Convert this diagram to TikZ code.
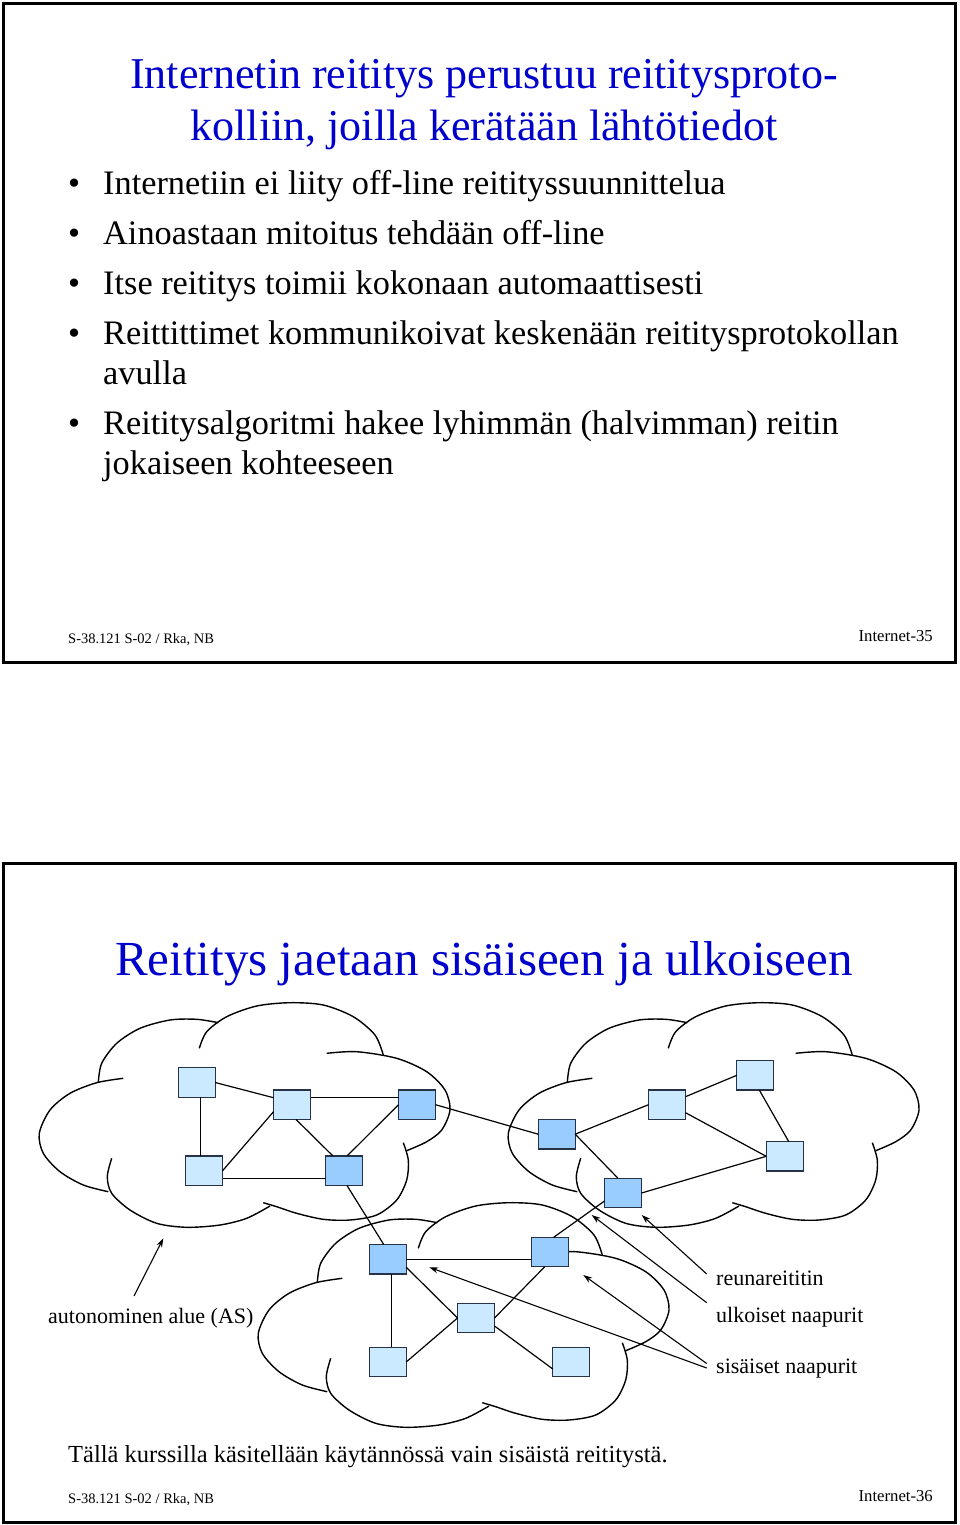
\documentclass[tikz,border=0pt]{standalone}
\usepackage{fontspec}
\setmainfont{Liberation Serif}
\usetikzlibrary{arrows.meta}
\definecolor{titleblue}{RGB}{0,0,204}
\definecolor{rlight}{RGB}{204,234,255}
\definecolor{rdark}{RGB}{153,204,255}
\definecolor{rborder}{RGB}{40,50,70}
\newcommand{\mycloud}[1]{%
\begin{scope}[shift={#1}]
\draw[cloudpen] plot[smooth] coordinates {(85.3,76.3) (58.7,80.7) (32,91.3) (12,108) (1.3,131.3) (5.3,151.3) (22,169.7) (45.3,183) (70.3,189.7)};
\draw[cloudpen] plot[smooth] coordinates {(60.3,80.7) (63.7,61.3) (78.7,41.3) (102,26.3) (132,18) (158.7,17.3) (180.3,20.7)};
\draw[cloudpen] plot[smooth] coordinates {(161.3,46.3) (168.7,29.7) (188.7,14.7) (218.7,4) (252,0.7) (285.3,3) (315.3,14.7) (337,33) (345.3,53)};
\draw[cloudpen] plot[smooth] coordinates {(288.7,51.3) (318.7,49.7) (358.7,56.3) (388.7,69.7) (407,88) (412,108) (403.7,128) (388.7,139.7) (368.7,148.7)};
\draw[cloudpen] plot[smooth] coordinates {(365.3,140.7) (370.3,158) (368.7,178) (358.7,198) (338.7,213) (312,218) (285.3,217.3) (258.7,211.3) (238.7,204.7) (225.3,200.7)};
\draw[cloudpen] plot[smooth] coordinates {(73.7,156.3) (69.3,174.7) (73.7,191.3) (92,208) (118.7,221.3) (148.7,225.3) (182,223) (208.7,216.3) (232,204)};
\end{scope}}
\begin{document}
\begin{tikzpicture}[x=1pt,y=-1pt,
  slideframe/.style={draw=black,line width=2.2pt},
  cloudpen/.style={draw=black,line width=1.4pt},
  routerbox/.style={draw=rborder,line width=1.2pt,minimum width=37pt,minimum height=29.5pt,inner sep=0pt,outer sep=0pt},
  rl/.style={routerbox,fill=rlight},
  rd/.style={routerbox,fill=rdark},
  linkline/.style={draw=black,line width=1.2pt},
  arrowline/.style={draw=black,line width=1.1pt,-{Stealth[length=9pt,width=6pt]}},
  lbl/.style={inner sep=0pt,anchor=base west},
  titletext/.style={inner sep=0pt,anchor=base,text=titleblue},
  bulletfont/.style={font=\fontsize{34.3}{40}\selectfont},
  footfont/.style={font=\fontsize{14.5}{17}\selectfont},
  footrfont/.style={font=\fontsize{16.7}{19}\selectfont},
  labelfont/.style={font=\fontsize{22}{26}\selectfont},
]
\useasboundingbox (0,0) rectangle (960,1525);
\fill[white] (0,0) rectangle (960,1525);

% ---------- slide 1 ----------
\draw[slideframe] (3.5,3.5) rectangle (955.5,662.5);
\node[titletext,font=\fontsize{44}{52}\selectfont] (t1a) at (484,89) {Internetin reititys perustuu reititysproto-};
\node[titletext,font=\fontsize{44}{52}\selectfont] (t1b) at (484,141) {kolliin, joilla kerätään lähtötiedot};
\node[lbl,bulletfont] (d1) at (68,194) {•};
\node[lbl,bulletfont] (b1) at (103,194) {Internetiin ei liity off-line reitityssuunnittelua};
\node[lbl,bulletfont] (d2) at (68,244) {•};
\node[lbl,bulletfont] (b2) at (103,244) {Ainoastaan mitoitus tehdään off-line};
\node[lbl,bulletfont] (d3) at (68,294) {•};
\node[lbl,bulletfont] (b3) at (103,294) {Itse reititys toimii kokonaan automaattisesti};
\node[lbl,bulletfont] (d4) at (68,344) {•};
\node[lbl,bulletfont] (b4) at (103,344) {Reittittimet kommunikoivat keskenään reititysprotokollan};
\node[lbl,bulletfont] (b4b) at (103,384) {avulla};
\node[lbl,bulletfont] (d5) at (68,434) {•};
\node[lbl,bulletfont] (b5) at (103,434) {Reititysalgoritmi hakee lyhimmän (halvimman) reitin};
\node[lbl,bulletfont] (b5b) at (103,474) {jokaiseen kohteeseen};
\node[lbl,footfont] (f1l) at (68,643) {S-38.121 S-02 / Rka, NB};
\node[inner sep=0pt,anchor=base east,footrfont] (f1r) at (933,641) {Internet-35};

% ---------- slide 2 ----------
\draw[slideframe] (3.5,863.5) rectangle (955.5,1522.5);
\node[titletext,font=\fontsize{49}{56}\selectfont] (t2) at (484,975) {Reititys jaetaan sisäiseen ja ulkoiseen};

\mycloud{(38,1002)}
\mycloud{(507,1002)}
\mycloud{(257,1202)}

% routers
\node[rl] (R1a) at (196.7,1082.5) {};
\node[rl] (R1b) at (292,1104.7) {};
\node[rd] (R1c) at (417,1104.7) {};
\node[rl] (R1d) at (204,1170.8) {};
\node[rd] (R1e) at (344,1170.8) {};
\node[rd] (R2a) at (556.7,1134.2) {};
\node[rl] (R2b) at (667,1104.7) {};
\node[rl] (R2c) at (755.3,1075.3) {};
\node[rl] (R2d) at (784.7,1156.3) {};
\node[rd] (R2e) at (623,1193) {};
\node[rd] (R3a) at (387.7,1259.2) {};
\node[rd] (R3b) at (549.7,1252) {};
\node[rl] (R3c) at (476,1318) {};
\node[rl] (R3d) at (387.7,1362) {};
\node[rl] (R3e) at (571.3,1362) {};

% links
\draw[linkline] (R1a.east) -- ([yshift=7pt]R1b.west);
\draw[linkline] ([xshift=4pt]R1a.south) -- ([xshift=-3.3pt]R1d.north);
\draw[linkline] ([yshift=7pt]R1b.east) -- ([yshift=7pt]R1c.west);
\draw[linkline] ([yshift=-7pt]R1b.west) -- (R1d.east);
\draw[linkline] ([xshift=4pt]R1b.south) -- ([xshift=-11pt]R1e.north);
\draw[linkline] (R1c.west) -- ([xshift=3pt]R1e.north);
\draw[linkline] ([yshift=-7.5pt]R1d.east) -- ([yshift=-7.5pt]R1e.west);
\draw[linkline] (R1c.east) -- (R2a.west);
\draw[linkline] ([xshift=3pt]R1e.south) -- ([xshift=-4pt]R3a.north);
\draw[linkline] (R2a.east) -- (R2b.west);
\draw[linkline] ([yshift=8pt]R2b.east) -- (R2c.west);
\draw[linkline] ([yshift=-8pt]R2b.east) -- (R2d.west);
\draw[linkline] ([xshift=4pt]R2c.south) -- ([xshift=4pt]R2d.north);
\draw[linkline] (R2a.east) -- ([xshift=-5pt]R2e.north);
\draw[linkline] (R2e.east) -- (R2d.west);
\draw[linkline] ([yshift=-8pt]R2e.west) -- ([xshift=4pt]R3b.north);
\draw[linkline] (R3a.east) -- (R3a.east -| R3b.west);
\draw[linkline] ([yshift=-8pt]R3a.east) -- (R3c.west);
\draw[linkline] ([xshift=4pt]R3a.south) -- ([xshift=4pt]R3d.north);
\draw[linkline] (R3c.east) -- ([xshift=-5pt]R3b.south);
\draw[linkline] (R3c.west) -- (R3d.east);
\draw[linkline] ([yshift=-8pt]R3c.east) -- ([yshift=-7pt]R3e.west);

% labels
\node[lbl,labelfont] (asl) at (48,1323) {autonominen alue (AS)};
\node[lbl,labelfont] (rrl) at (716,1285) {reunareititin};
\node[lbl,labelfont] (ull) at (716,1322) {ulkoiset naapurit};
\node[lbl,labelfont] (sil) at (716,1373) {sisäiset naapurit};

\coordinate (asS) at (134,1296);
\coordinate (asT) at (163.3,1238.3);
\coordinate (rrS) at (706.7,1274);
\coordinate (rrT) at (641.7,1215);
\coordinate (ulS) at (706.7,1302.7);
\coordinate (ulT) at (591.7,1215);
\coordinate (siS) at (706.7,1363.5);
\coordinate (siS2) at (706.7,1368);
\coordinate (siT1) at (583.3,1275);
\coordinate (siT2) at (429.3,1267.3);
\draw[arrowline] (asS) -- (asT);
\draw[arrowline] (rrS) -- (rrT);
\draw[arrowline] (ulS) -- (ulT);
\draw[arrowline] (siS) -- (siT1);
\draw[arrowline] (siS2) -- (siT2);

\node[lbl,font=\fontsize{24.5}{28}\selectfont] (note) at (68,1462) {Tällä kurssilla käsitellään käytännössä vain sisäistä reititystä.};
\node[lbl,footfont] (f2l) at (68,1503) {S-38.121 S-02 / Rka, NB};
\node[inner sep=0pt,anchor=base east,footrfont] (f2r) at (933,1501) {Internet-36};
\end{tikzpicture}
\end{document}
